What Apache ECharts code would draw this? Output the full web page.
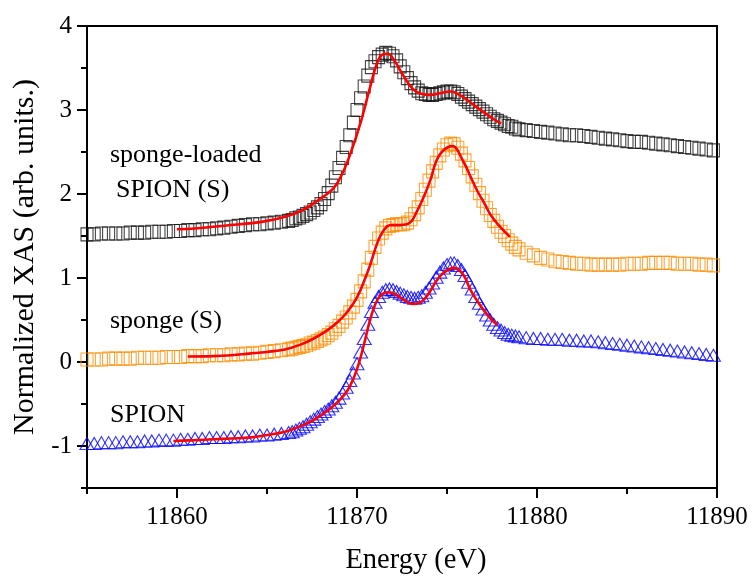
<!DOCTYPE html>
<html>
<head>
<meta charset="utf-8">
<script src="https://cdn.jsdelivr.net/npm/echarts@6/dist/echarts.min.js"></script>
<style>html,body{margin:0;padding:0;background:#fff}#c{width:752px;height:580px}</style>
</head>
<body>
<div id="c"></div>
<script>
// Measured energies (eV), shared by the three spectra
const energy = [
  11855,11855.4,11855.8,11856.2,11856.6,11857,11857.4,11857.8,11858.2,11858.6,11859,11859.4,11859.8,11860.2,11860.6,11861,11861.4,11861.8,11862.2,11862.6,11863,11863.4,11863.8,11864.2,11864.6,11865,11865.4,11865.8,
  11866.2,11866.4,11866.6,11866.8,11867,11867.2,11867.4,11867.6,11867.8,11868,11868.2,11868.4,11868.6,11868.8,11869,11869.2,11869.4,11869.6,11869.8,11870,11870.2,11870.4,11870.6,11870.8,11871,11871.2,11871.4,11871.6,11871.8,11872,11872.2,11872.4,11872.6,11872.8,11873,11873.2,11873.4,11873.6,11873.8,11874,11874.2,11874.4,11874.6,11874.8,11875,11875.2,11875.4,11875.6,11875.8,11876,11876.2,11876.4,11876.6,11876.8,11877,11877.2,11877.4,11877.6,11877.8,11878,11878.2,11878.4,11878.6,11878.8,11879,
  11879.4,11879.8,11880.2,11880.6,11881,11881.4,11881.8,11882.2,11882.6,11883,11883.4,11883.8,11884.2,11884.6,11885,11885.4,11885.8,11886.2,11886.6,11887,11887.4,11887.8,11888.2,11888.6,11889,11889.4,11889.8
];
// sponge-loaded SPION (S)
const loadedXAS = [
  1.52,1.52,1.53,1.53,1.53,1.53,1.54,1.54,1.54,1.55,1.55,1.55,1.56,1.56,1.57,1.57,1.58,1.58,1.59,1.60,1.61,1.62,1.63,1.64,1.64,1.65,1.66,1.67,
  1.68,1.69,1.71,1.72,1.74,1.76,1.78,1.81,1.84,1.88,1.94,2.01,2.10,2.20,2.31,2.43,2.56,2.70,2.85,3.00,3.14,3.28,3.41,3.51,3.58,3.63,3.66,3.68,3.67,3.64,3.59,3.52,3.45,3.38,3.32,3.27,3.23,3.20,3.19,3.18,3.18,3.19,3.20,3.21,3.22,3.22,3.21,3.19,3.16,3.13,3.10,3.07,3.04,3.01,2.98,2.95,2.92,2.89,2.87,2.85,2.83,2.81,2.80,2.78,2.77,
  2.76,2.75,2.74,2.73,2.72,2.71,2.70,2.70,2.69,2.68,2.67,2.66,2.65,2.64,2.63,2.62,2.62,2.61,2.60,2.59,2.58,2.57,2.56,2.55,2.54,2.53,2.52
];
// sponge (S)
const spongeXAS = [
  0.03,0.03,0.03,0.04,0.04,0.04,0.04,0.05,0.05,0.05,0.05,0.06,0.06,0.06,0.07,0.07,0.07,0.08,0.08,0.08,0.09,0.09,0.10,0.10,0.11,0.12,0.13,0.14,
  0.15,0.16,0.17,0.18,0.19,0.20,0.22,0.23,0.25,0.27,0.29,0.32,0.35,0.39,0.43,0.48,0.53,0.59,0.66,0.74,0.84,0.96,1.10,1.24,1.37,1.47,1.54,1.59,1.62,1.63,1.64,1.64,1.64,1.66,1.70,1.76,1.84,1.94,2.05,2.16,2.27,2.37,2.46,2.53,2.58,2.60,2.59,2.55,2.48,2.40,2.31,2.21,2.11,2.01,1.92,1.83,1.75,1.68,1.61,1.55,1.50,1.45,1.41,1.37,1.34,
  1.30,1.27,1.24,1.22,1.20,1.19,1.18,1.17,1.17,1.16,1.16,1.16,1.16,1.16,1.17,1.17,1.17,1.18,1.18,1.18,1.18,1.17,1.17,1.17,1.16,1.16,1.15
];
// SPION
const spionXAS = [
  -0.97,-0.97,-0.96,-0.96,-0.96,-0.95,-0.95,-0.95,-0.94,-0.94,-0.93,-0.93,-0.93,-0.92,-0.92,-0.91,-0.91,-0.90,-0.90,-0.90,-0.89,-0.89,-0.88,-0.88,-0.87,-0.87,-0.86,-0.85,
  -0.84,-0.83,-0.81,-0.79,-0.77,-0.74,-0.71,-0.68,-0.65,-0.62,-0.59,-0.56,-0.52,-0.48,-0.43,-0.37,-0.30,-0.22,-0.13,-0.02,0.12,0.28,0.45,0.60,0.71,0.78,0.83,0.86,0.87,0.86,0.84,0.82,0.80,0.78,0.77,0.76,0.77,0.79,0.83,0.88,0.94,1.01,1.07,1.12,1.16,1.18,1.18,1.15,1.10,1.03,0.95,0.87,0.78,0.70,0.63,0.56,0.50,0.45,0.41,0.38,0.35,0.33,0.32,0.31,0.30,
  0.29,0.28,0.28,0.27,0.27,0.27,0.26,0.26,0.25,0.25,0.24,0.23,0.22,0.21,0.20,0.19,0.18,0.17,0.16,0.15,0.14,0.13,0.12,0.11,0.10,0.09,0.08
];

// Fits (red lines)
const loadedFitX = [11860,11861,11862,11863,11864,11865,11866,11866.9,11867.8,11868.7,11869.2,11869.6,11870.2,11870.7,11871.1,11871.4,11871.7,11872.1,11872.6,11873.1,11873.6,11874.1,11874.6,11875.2,11875.7,11876.3,11876.8,11877.2,11877.6,11878];
const loadedFitY = [1.58,1.59,1.61,1.63,1.65,1.68,1.73,1.80,1.92,2.07,2.25,2.46,2.85,3.25,3.55,3.66,3.67,3.58,3.40,3.25,3.19,3.18,3.20,3.22,3.18,3.09,3.01,2.95,2.89,2.84];
const spongeFitX = [11860.6,11862,11863,11864,11865,11866,11866.9,11867.6,11868.3,11868.9,11869.4,11870,11870.5,11870.8,11871.1,11871.4,11871.85,11872.4,11872.95,11873.3,11873.7,11874.1,11874.4,11874.8,11875.3,11875.9,11876.3,11876.7,11877.1,11877.4,11877.9,11878.5];
const spongeFitY = [0.065,0.07,0.08,0.10,0.12,0.15,0.21,0.28,0.37,0.47,0.58,0.77,1.02,1.20,1.40,1.54,1.63,1.63,1.66,1.78,1.96,2.18,2.39,2.52,2.57,2.39,2.21,2.03,1.88,1.76,1.62,1.49];
const spionFitX = [11859.8,11861,11862,11863,11864,11865,11866,11866.9,11867.5,11868.1,11868.6,11869.1,11869.5,11869.8,11870.1,11870.4,11870.7,11871,11871.3,11871.7,11872.1,11872.6,11873.1,11873.6,11874,11874.4,11874.8,11875.4,11875.9,11876.3,11876.7,11877.1,11877.5,11877.8];
const spionFitY = [-0.94,-0.93,-0.92,-0.91,-0.90,-0.87,-0.83,-0.76,-0.70,-0.62,-0.54,-0.44,-0.33,-0.20,-0.02,0.22,0.48,0.68,0.79,0.83,0.81,0.74,0.69,0.72,0.82,0.96,1.06,1.12,1.04,0.86,0.72,0.60,0.50,0.44];

// axis ticks
const xMajor = [11860,11870,11880,11890];
const yMajor = [-1,0,1,2,3,4];

const labels = [
  {text: 'sponge-loaded', x: 110, y: 157},
  {text: 'SPION (S)', x: 116, y: 192},
  {text: 'sponge (S)', x: 110, y: 323},
  {text: 'SPION', x: 110, y: 417}
];

const pair = (xs, ys) => xs.map((x, i) => [x, ys[i]]);
const FONT = 'Liberation Serif';

const chart = echarts.init(document.getElementById('c'), null, {renderer: 'canvas'});

function markerSeries(name, xs, ys, color, symbol, size) {
  return {
    name, type: 'scatter', xAxisIndex: 0, yAxisIndex: 0,
    data: pair(xs, ys), symbol, symbolSize: size,
    itemStyle: {color: 'rgba(0,0,0,0)', borderColor: color, borderWidth: 1.1},
    silent: true, z: 2, clip: false, large: false
  };
}
function fitSeries(name, xs, ys) {
  return {
    name, type: 'line', xAxisIndex: 0, yAxisIndex: 0,
    data: pair(xs, ys), smooth: 0.4, showSymbol: false,
    lineStyle: {color: '#ff0000', width: 2.6}, silent: true, z: 5
  };
}

chart.setOption({
  animation: false,
  backgroundColor: '#fff',
  grid: {left: 87, right: 35, top: 26, bottom: 85, show: true, borderColor: '#000', borderWidth: 2, backgroundColor: 'transparent'},
  xAxis: [{
    type: 'value', min: 11855, max: 11890, interval: 5, position: 'bottom',
    name: 'Energy (eV)', nameLocation: 'middle', nameGap: 58,
    nameTextStyle: {fontFamily: FONT, fontSize: 28.5, color: '#000', padding: [0, 0, 0, 28]},
    axisLine: {show: true, onZero: false, lineStyle: {color: '#000', width: 2}},
    axisTick: {show: true, inside: false, length: 10, customValues: xMajor, lineStyle: {color: '#000', width: 2}},
    axisLabel: {show: true, customValues: xMajor, margin: 17, fontFamily: FONT, fontSize: 25, color: '#000', formatter: v => String(v)},
    splitLine: {show: false}
  }, {
    type: 'value', min: 11855, max: 11890, interval: 5, position: 'bottom',
    axisLine: {show: false, onZero: false},
    axisTick: {show: true, length: 6, lineStyle: {color: '#000', width: 2}},
    axisLabel: {show: false}, splitLine: {show: false}
  }],
  yAxis: [{
    type: 'value', min: -1.5, max: 4, interval: 0.5, position: 'left',
    name: 'Normalized XAS (arb. units.)', nameLocation: 'middle', nameGap: 44,
    nameTextStyle: {fontFamily: FONT, fontSize: 30, color: '#000'},
    axisLine: {show: true, onZero: false, lineStyle: {color: '#000', width: 2}},
    axisTick: {show: true, length: 10, customValues: yMajor, lineStyle: {color: '#000', width: 2}},
    axisLabel: {show: true, customValues: yMajor, margin: 15, fontFamily: FONT, fontSize: 25, color: '#000', formatter: v => String(v)},
    splitLine: {show: false}
  }, {
    type: 'value', min: -1.5, max: 4, interval: 0.5, position: 'left',
    axisLine: {show: false, onZero: false},
    axisTick: {show: true, length: 6, lineStyle: {color: '#000', width: 2}},
    axisLabel: {show: false}, splitLine: {show: false}
  }],
  graphic: labels.map(l => ({
    type: 'text', left: l.x, top: l.y - 15, silent: true,
    style: {text: l.text, fontFamily: FONT, fontSize: 26, fill: '#000'}
  })),
  series: [
    markerSeries('sponge-loaded SPION (S)', energy, loadedXAS, '#111111', 'rect', [12, 13]),
    markerSeries('sponge (S)', energy, spongeXAS, '#ff8c00', 'rect', [12, 13]),
    markerSeries('SPION', energy, spionXAS, '#0000ff', 'triangle', [14, 12]),
    fitSeries('fit loaded', loadedFitX, loadedFitY),
    fitSeries('fit sponge', spongeFitX, spongeFitY),
    fitSeries('fit SPION', spionFitX, spionFitY)
  ]
});
</script>
</body>
</html>
